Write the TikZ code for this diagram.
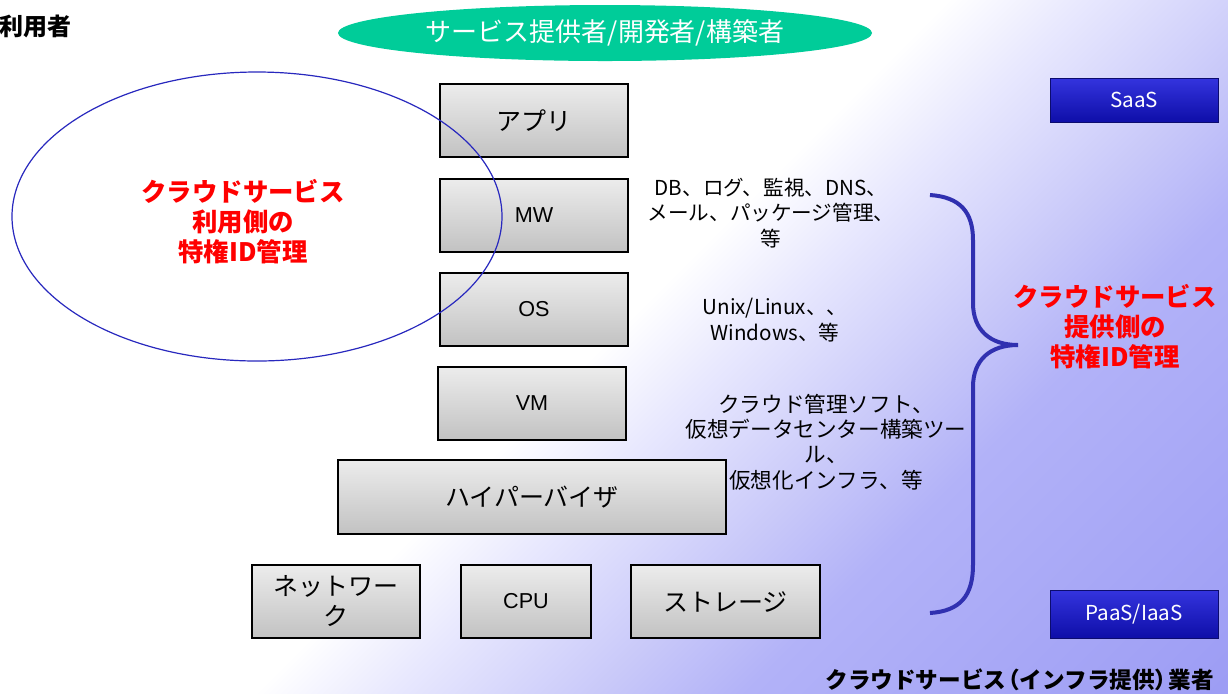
\documentclass[tikz,border=0pt]{standalone}
\usepackage{fontspec}
\setmainfont{Noto Sans CJK JP}
\newfontfamily\latinsans{Liberation Sans}
\usetikzlibrary{shapes.geometric}
\definecolor{bgA}{RGB}{232,232,254}
\definecolor{bgB}{RGB}{200,200,249}
\definecolor{bgC}{RGB}{178,178,248}
\definecolor{bgD}{RGB}{156,156,244}
\definecolor{devgreen}{RGB}{0,204,153}
\definecolor{boxtop}{RGB}{236,236,236}
\definecolor{boxbot}{RGB}{194,194,194}
\definecolor{ellblue}{RGB}{40,40,190}
\definecolor{bracecol}{RGB}{48,48,176}
\definecolor{btntop}{RGB}{52,52,222}
\definecolor{btnbot}{RGB}{14,14,168}
\definecolor{btnedge}{RGB}{12,12,110}
\definecolor{redtxt}{RGB}{255,0,0}
\pgfdeclarehorizontalshading{bgshade}{100bp}{color(0bp)=(white); color(49.5bp)=(white); color(54.6bp)=(bgA); color(62.4bp)=(bgB); color(67.7bp)=(bgC); color(86bp)=(bgD); color(100bp)=(bgD)}
\begin{document}
\begin{tikzpicture}[x=0.5pt,y=-0.5pt,
  gbox/.style={draw=black, line width=0.75pt, top color=boxtop, bottom color=boxbot, inner sep=0pt, minimum height=36.5pt, align=center},
  jpl/.style={font=\fontsize{12.5}{15}\selectfont},
  lat/.style={font=\latinsans\fontsize{10.8}{12}\selectfont},
  note/.style={align=center, inner sep=0pt},
  redlbl/.style={align=center, inner sep=0pt, text=redtxt, font=\fontsize{12.7}{15}\selectfont\bfseries},
  bluebox/.style={draw=btnedge, line width=0.5pt, top color=btntop, bottom color=btnbot, text=white, inner sep=0pt, minimum width=84pt, font=\fontsize{10.3}{12}\selectfont}]
\shade[shading=bgshade, shading angle=-45] (0,0) rectangle (1228,693);
\useasboundingbox (0,0) rectangle (1228,693);

% top labels
\node[anchor=west, inner sep=0pt, font=\fontsize{12}{14}\selectfont\bfseries] (user) at (-1,26) {利用者};
\node[ellipse, fill=devgreen, text=white, minimum width=267pt, minimum height=28pt, inner sep=0pt, font=\fontsize{13}{15}\selectfont] (dev) at (605,33) {サービス提供者/開発者/構築者};

% stack boxes
\node[gbox, jpl, minimum width=94pt] (app) at (534,120.5) {アプリ};
\node[gbox, lat, minimum width=94pt] (mw) at (534,215.5) {MW};
\node[gbox, lat, minimum width=94pt] (os) at (534,309.5) {OS};
\node[gbox, lat, minimum width=94pt] (vm) at (532,403.5) {VM};
\node[gbox, jpl, minimum width=194pt, minimum height=37pt] (hyp) at (532,497) {ハイパーバイザ};
\node[gbox, jpl, minimum width=84pt] (net) at (336,601.5) {ネットワー\\ク};
\node[gbox, lat, minimum width=65pt] (cpu) at (526,601.5) {CPU};
\node[gbox, jpl, minimum width=94.5pt] (sto) at (725.5,601.5) {ストレージ};

% user-side ellipse and label
\node[ellipse, draw=ellblue, line width=0.6pt, minimum width=245pt, minimum height=144.5pt, inner sep=0pt] (userell) at (257,216.5) {};
\node[redlbl] (userlbl) at (243,222) {クラウドサービス\\利用側の\\特権ID管理};

% notes
\node[note, font=\fontsize{10.3}{12.6}\selectfont] (mwnote) at (771,213) {DB、ログ、監視、DNS、\\メール、パッケージ管理、\\等};
\node[note, font=\fontsize{10.3}{13}\selectfont] (osnote) at (775,320) {Unix/Linux、、\\Windows、等};
\node[note, font=\fontsize{10.8}{12.6}\selectfont] (vmnote) at (826,442) {クラウド管理ソフト、\\仮想データセンター構築ツー\\ル、\\仮想化インフラ、等};

% brace
\coordinate (bt) at (930,195);
\coordinate (btip) at (1018,345);
\coordinate (bb) at (930,613);
\draw[bracecol, line width=2pt] (bt) .. controls (960,197) and (973,212) .. (973,240) -- (973,303)
  .. controls (973,330) and (990,345) .. (btip)
  .. controls (990,345) and (973,360) .. (973,387) -- (973,565)
  .. controls (973,596) and (960,611) .. (bb);
\node[redlbl] (provlbl) at (1115,327) {クラウドサービス\\提供側の\\特権ID管理};

% service model buttons
\node[bluebox, minimum height=22pt] (saas) at (1134,100) {SaaS};
\node[bluebox, minimum height=24pt] (paas) at (1134,614) {PaaS/IaaS};

% bottom label
\node[anchor=east, inner sep=0pt, font=\fontsize{11.3}{13}\selectfont\bfseries] (infra) at (1214,680) {クラウドサービス\kern-0.4em（インフラ提供）\kern-0.4em業者};
\end{tikzpicture}
\end{document}
